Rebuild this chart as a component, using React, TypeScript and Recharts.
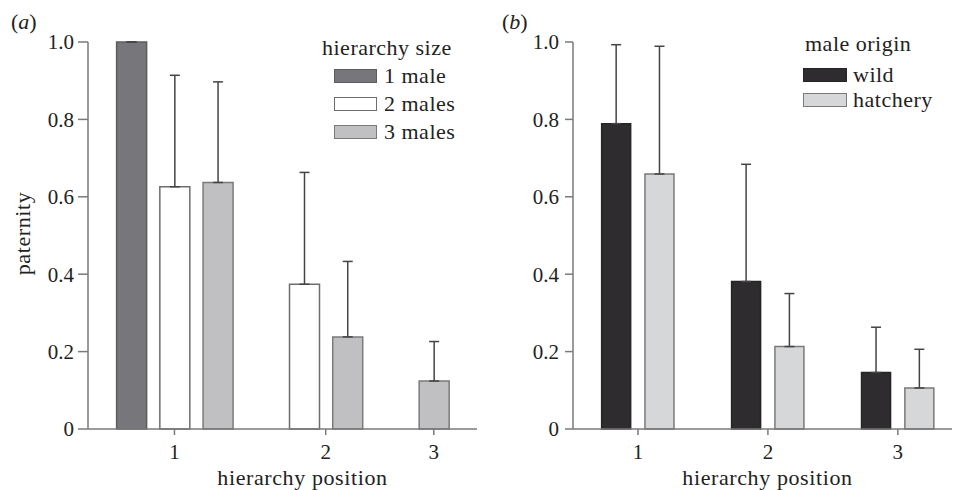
import React from 'react';
import { BarChart, Bar, XAxis, YAxis, ErrorBar, Cell, Legend } from 'recharts';

// hierarchy positions (x categories)
const positions = ['1', '2', '3'];

// panel (a): hierarchy size
const sizeNames = ['1 male', '2 males', '3 males'];
const oneMale = [1.0, null, null];
const oneMaleErr = [0, null, null];
const twoMales = [0.626, 0.374, null];
const twoMalesErr = [0.288, 0.289, null];
const threeMales = [0.637, 0.238, 0.124];
const threeMalesErr = [0.26, 0.195, 0.102];

// panel (b): male origin
const originNames = ['wild', 'hatchery'];
const wild = [0.789, 0.381, 0.146];
const wildErr = [0.204, 0.303, 0.117];
const hatchery = [0.659, 0.213, 0.106];
const hatcheryErr = [0.33, 0.137, 0.1];

const yTicks = [0, 0.2, 0.4, 0.6, 0.8, 1.0];

const sizeFills = ['#77777b', '#ffffff', '#c0c0c2'];
const sizeStrokes = ['#5c5c60', '#6e6e6e', '#7a7a7c'];
const originFills = ['#2e2c2e', '#d6d7d9'];
const originStrokes = ['#262426', '#7a7a7a'];

const FONT = '"Liberation Serif", "Times New Roman", serif';
const TEXT = '#222';
const AXIS = '#7a7a7a';

type Row = { slot: number; value: number; err: number; series: number; position: string };

function buildRows(values: (number | null)[][], errs: (number | null)[][]) {
  const rows: Row[] = [];
  const ticks: number[] = [];
  let slot = 0;
  positions.forEach((pos, i) => {
    const start = slot;
    values.forEach((vals, s) => {
      const v = vals[i];
      if (v != null) {
        rows.push({ slot, value: v, err: errs[s][i] ?? 0, series: s, position: pos });
        slot++;
      }
    });
    ticks.push((start + slot - 1) / 2);
    slot++;
  });
  return { rows, ticks };
}

const A = buildRows([oneMale, twoMales, threeMales], [oneMaleErr, twoMalesErr, threeMalesErr]);
const B = buildRows([wild, hatchery], [wildErr, hatcheryErr]);

const fmtY = (v: number) => (v === 0 ? '0' : v.toFixed(1));

function LegendBox(props: {
  title: string;
  names: string[];
  fills: string[];
  strokes: string[];
  titleH: number;
  titlePad: number;
  gapAfterTitle: number;
  rowH: number;
  swatchLeft: number;
  swatchW: number;
  textGap: number;
}) {
  return (
    <div style={{ fontFamily: FONT, fontSize: 22, color: TEXT, letterSpacing: 0.5, lineHeight: '28px', whiteSpace: 'nowrap' }}>
      <div style={{ height: props.titleH, paddingLeft: props.titlePad, marginBottom: props.gapAfterTitle }}>{props.title}</div>
      {props.names.map((n, i) => (
        <div key={n} style={{ height: props.rowH, display: 'flex', alignItems: 'center' }}>
          <span
            style={{
              display: 'inline-block',
              marginLeft: props.swatchLeft,
              width: props.swatchW,
              height: 14,
              boxSizing: 'border-box',
              background: props.fills[i],
              border: `1.5px solid ${props.strokes[i]}`,
            }}
          />
          <span style={{ marginLeft: props.textGap }}>{n}</span>
        </div>
      ))}
    </div>
  );
}

const tickStyle = { fill: TEXT, fontSize: 21, fontFamily: FONT };

export default function App() {
  return (
    <div style={{ position: 'absolute', left: 0, top: 0, width: 954, height: 490, background: '#fff', fontFamily: FONT }}>
      <div style={{ position: 'absolute', left: 11, top: 7.6, fontSize: 22, lineHeight: '28px', color: TEXT }}>
        (<i>a</i>)
      </div>
      <div style={{ position: 'absolute', left: 502, top: 7.6, fontSize: 22, lineHeight: '28px', color: TEXT }}>
        (<i>b</i>)
      </div>

      <div style={{ position: 'absolute', left: 0, top: 0 }}>
        <BarChart width={480} height={490} data={A.rows} margin={{ top: 42, right: 3, bottom: 31, left: 20 }}>
          <XAxis
            type="number"
            dataKey="slot"
            domain={[-1, 8]}
            ticks={A.ticks}
            interval={0}
            tickFormatter={(v: number) => positions[A.ticks.indexOf(v)] ?? ''}
            height={30}
            tickSize={6}
            tickMargin={9}
            stroke={AXIS}
            strokeWidth={1.5}
            tick={tickStyle}
            label={{ value: 'hierarchy position', position: 'bottom', offset: 10, dx: 20, fill: TEXT, fontSize: 22, fontFamily: FONT, style: { letterSpacing: '0.6px' } }}
          />
          <YAxis
            type="number"
            domain={[0, 1]}
            ticks={yTicks}
            interval={0}
            tickFormatter={fmtY}
            width={68}
            tickSize={10}
            tickMargin={4}
            stroke={AXIS}
            strokeWidth={1.5}
            tick={tickStyle}
            label={{ value: 'paternity', angle: -90, position: 'insideLeft', offset: 2, dy: -2, fill: TEXT, fontSize: 22, fontFamily: FONT, style: { textAnchor: 'middle', letterSpacing: '0.6px' } }}
          />
          <Bar dataKey="value" barSize={30} strokeWidth={1.5} isAnimationActive={false}>
            {A.rows.map((r, i) => (
              <Cell key={i} fill={sizeFills[r.series]} stroke={sizeStrokes[r.series]} />
            ))}
            <ErrorBar dataKey={(d: Row) => [0, d.err]} width={5} stroke="#444" strokeWidth={1.5} direction="y" />
          </Bar>
          <Legend
            layout="vertical"
            align="center"
            verticalAlign="middle"
            wrapperStyle={{ top: 34, left: 322, width: 160 }}
            content={() => (
              <LegendBox
                title="hierarchy size"
                names={sizeNames}
                fills={sizeFills}
                strokes={sizeStrokes}
                titleH={28}
                titlePad={0}
                gapAfterTitle={0}
                rowH={28}
                swatchLeft={12}
                swatchW={43}
                textGap={7}
              />
            )}
          />
        </BarChart>
      </div>

      <div style={{ position: 'absolute', left: 480, top: 0 }}>
        <BarChart width={474} height={490} data={B.rows} margin={{ top: 42, right: 2, bottom: 31, left: 33 }}>
          <XAxis
            type="number"
            dataKey="slot"
            domain={[-1, 7.75]}
            ticks={B.ticks}
            interval={0}
            tickFormatter={(v: number) => positions[B.ticks.indexOf(v)] ?? ''}
            height={30}
            tickSize={6}
            tickMargin={9}
            stroke={AXIS}
            strokeWidth={1.5}
            tick={tickStyle}
            label={{ value: 'hierarchy position', position: 'bottom', offset: 10, dx: 5, fill: TEXT, fontSize: 22, fontFamily: FONT, style: { letterSpacing: '0.6px' } }}
          />
          <YAxis
            type="number"
            domain={[0, 1]}
            ticks={yTicks}
            interval={0}
            tickFormatter={fmtY}
            width={60}
            tickSize={8}
            tickMargin={6}
            stroke={AXIS}
            strokeWidth={1.5}
            tick={tickStyle}
          />
          <Bar dataKey="value" barSize={29} strokeWidth={1.5} isAnimationActive={false}>
            {B.rows.map((r, i) => (
              <Cell key={i} fill={originFills[r.series]} stroke={originStrokes[r.series]} />
            ))}
            <ErrorBar dataKey={(d: Row) => [0, d.err]} width={5} stroke="#444" strokeWidth={1.5} direction="y" />
          </Bar>
          <Legend
            layout="vertical"
            align="center"
            verticalAlign="middle"
            wrapperStyle={{ top: 30, left: 323, width: 150 }}
            content={() => (
              <LegendBox
                title="male origin"
                names={originNames}
                fills={originFills}
                strokes={originStrokes}
                titleH={28}
                titlePad={2}
                gapAfterTitle={4.5}
                rowH={25}
                swatchLeft={0}
                swatchW={44}
                textGap={6}
              />
            )}
          />
        </BarChart>
      </div>
    </div>
  );
}
